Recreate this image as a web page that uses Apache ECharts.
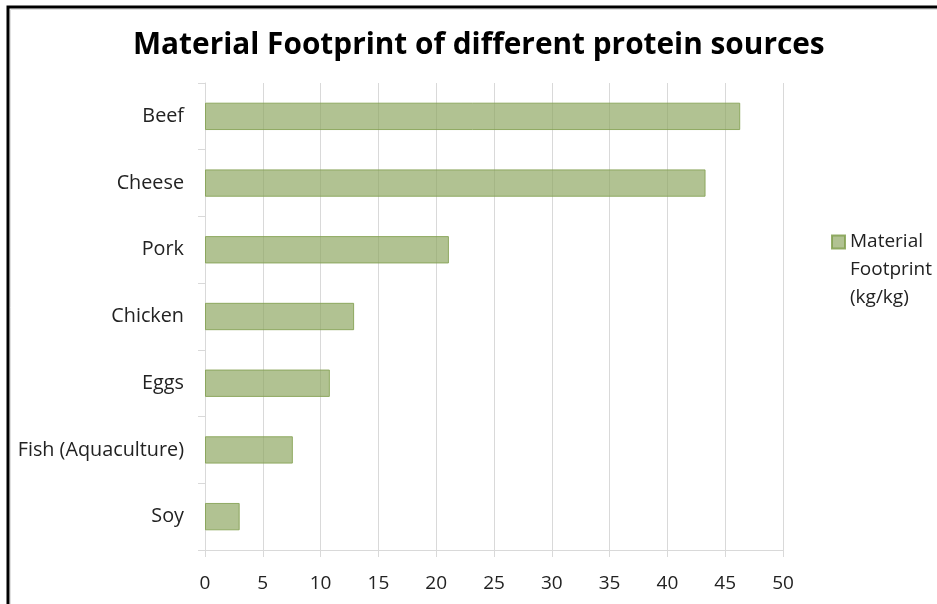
<!DOCTYPE html>
<html>
<head>
<meta charset="utf-8">
<script src="https://cdn.jsdelivr.net/npm/echarts@6/dist/echarts.min.js"></script>
<style>
  html, body { margin: 0; padding: 0; background: #fff; }
  #chart { width: 937px; height: 604px; }
</style>
</head>
<body>
<div id="chart"></div>
<script>
// data
const categories = ['Beef', 'Cheese', 'Pork', 'Chicken', 'Eggs', 'Fish (Aquaculture)', 'Soy'];
const footprint = [46.3, 43.3, 21.1, 12.9, 10.8, 7.6, 3.0];
const seriesName = 'Material Footprint (kg/kg)';

const myChart = echarts.init(document.getElementById('chart'));
const font = '"Open Sans", sans-serif';

const option = {
  animation: false,
  textStyle: { fontFamily: font },
  title: {
    text: 'Material Footprint of different protein sources',
    left: 128,
    top: 26,
    textStyle: { fontSize: 29.8, fontWeight: 'bold', color: '#000', fontFamily: font }
  },
  legend: {
    orient: 'vertical',
    left: 826,
    top: 167,
    icon: 'rect',
    itemWidth: 13,
    itemHeight: 13,
    itemGap: 0,
    // two empty lines on top so the marker sits beside the first line
    formatter: () => '\n\nMaterial\nFootprint\n(kg/kg)',
    textStyle: { fontSize: 19, color: '#222', lineHeight: 28 },
    data: [seriesName]
  },
  grid: { left: 205, right: 154, top: 83, bottom: 54 },
  xAxis: {
    type: 'value',
    min: 0,
    max: 50,
    interval: 5,
    axisLine: { show: true, lineStyle: { color: '#d9d9d9' } },
    axisTick: { show: true, length: 7, lineStyle: { color: '#d9d9d9' } },
    axisLabel: { fontSize: 19, color: '#222', margin: 24 },
    splitLine: { show: true, lineStyle: { color: '#d9d9d9' } }
  },
  yAxis: {
    type: 'category',
    inverse: true,
    data: categories,
    axisLine: { show: true, lineStyle: { color: '#d9d9d9' } },
    axisTick: { show: true, length: 7, lineStyle: { color: '#d9d9d9' } },
    axisLabel: { fontSize: 19.8, color: '#222', margin: 21 }
  },
  series: [{
    name: seriesName,
    type: 'bar',
    data: footprint,
    barWidth: '41%',
    itemStyle: {
      color: 'rgba(140,165,95,0.68)',
      borderColor: 'rgba(130,160,80,0.85)',
      borderWidth: 1
    }
  }],
  graphic: [
    { type: 'rect', shape: { x: 8, y: 7, width: 1000, height: 1000 }, style: { fill: 'none', stroke: '#000', lineWidth: 3 }, silent: true },
    { type: 'rect', shape: { x: 10.5, y: 9.5, width: 1000, height: 1000 }, style: { fill: 'none', stroke: '#e0e0e0', lineWidth: 1 }, silent: true }
  ]
};

myChart.setOption(option);
window.addEventListener('resize', () => myChart.resize());
</script>
</body>
</html>
